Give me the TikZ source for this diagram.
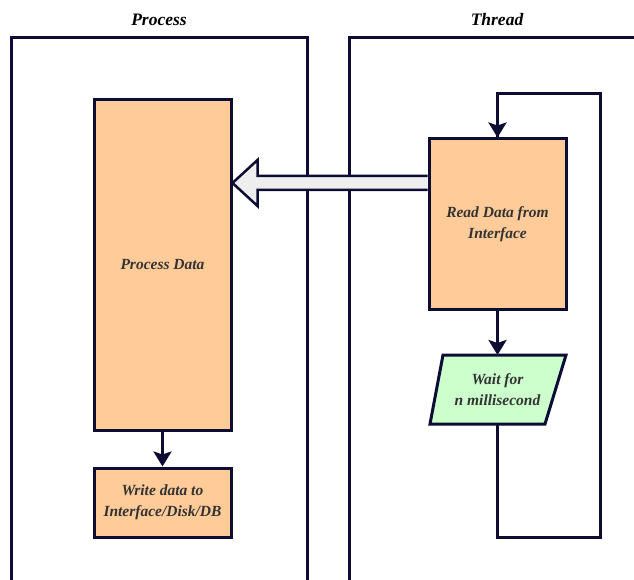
\documentclass[tikz,border=0pt]{standalone}
\usepackage{fontspec}
\setmainfont{Liberation Serif}
\usetikzlibrary{arrows.meta,calc}
\definecolor{navy}{RGB}{12,12,52}
\definecolor{peach}{RGB}{255,204,153}
\definecolor{mint}{RGB}{204,255,204}
\definecolor{txt}{RGB}{51,51,51}
\definecolor{arrowgrey}{RGB}{238,238,238}
\tikzset{
  line/.style={draw=navy,line width=3pt},
  container/.style={line},
  boxfont/.style={font=\fontsize{15.5}{20.5}\selectfont\bfseries\itshape,text=txt},
  box/.style={line,fill=peach,inner sep=2pt,align=center,boxfont},
  title/.style={font=\fontsize{17.5}{20}\selectfont\bfseries\itshape,text=black},
  flow/.style={line,-{Stealth[length=15pt,width=18pt,inset=3pt]}},
  loop/.style={line,line join=miter},
  bigarrow/.style={draw=navy,line width=2.5pt,fill=arrowgrey,line join=miter},
}
\begin{document}
\begin{tikzpicture}[x=1pt,y=-1pt]
\useasboundingbox (0,0) rectangle (634,580);
\clip (0,0) rectangle (634,580);
% containers
\node[title] (ptitle) at (159,20) {Process};
\node[title] (ttitle) at (497,20) {Thread};
\draw[container] (11,600) -- (11,38) -- (307,38) -- (307,600);
\draw[container] (349,600) -- (349,38) -- (660,38);
% process side
\node[box,minimum width=137pt,minimum height=330pt] (pd) at (162.5,265) {Process Data};
\node[box,minimum width=137pt,minimum height=69pt] (wd) at (162.5,502.5) {Write data to\\Interface/Disk/DB};
\draw[flow] (pd.south) -- (wd.north);
% thread side
\node[box,minimum width=137pt,minimum height=170pt] (rd) at (497.5,224) {Read Data from\\Interface};
\coordinate (wtl) at (443,355);
\coordinate (wtr) at (566,355);
\coordinate (wbr) at (545,424);
\coordinate (wbl) at (430,424);
\draw[line,fill=mint,line join=miter] (wtl) -- (wtr) -- (wbr) -- (wbl) -- cycle;
\node[align=center,boxfont] (wait) at (497.5,389.5) {Wait for\\n millisecond};
\coordinate (waittop) at (497.5,355);
\coordinate (waitbot) at (497.5,424);
\draw[flow] (rd.south) -- (waittop);
\coordinate (c1) at (497.5,537);
\coordinate (c2) at (600,537);
\coordinate (c3) at (600,94);
\coordinate (c4) at (497.5,94);
\draw[loop] (waitbot) -- (c1) -- (c2) -- (c3) -- (c4) -- (rd.north);
\draw[flow] (c4) -- (rd.north);
% big hollow arrow from Read Data to Process Data
\coordinate (tip) at (pd.east |- 0,183);
\coordinate (tail) at (rd.west |- 0,183);
\draw[bigarrow] ($(tail)+(0,-7)$) -- ($(tip)+(25,-7)$) -- ($(tip)+(25,-23)$) -- (tip)
  -- ($(tip)+(25,23)$) -- ($(tip)+(25,7)$) -- ($(tail)+(0,7)$);
\end{tikzpicture}
\end{document}
